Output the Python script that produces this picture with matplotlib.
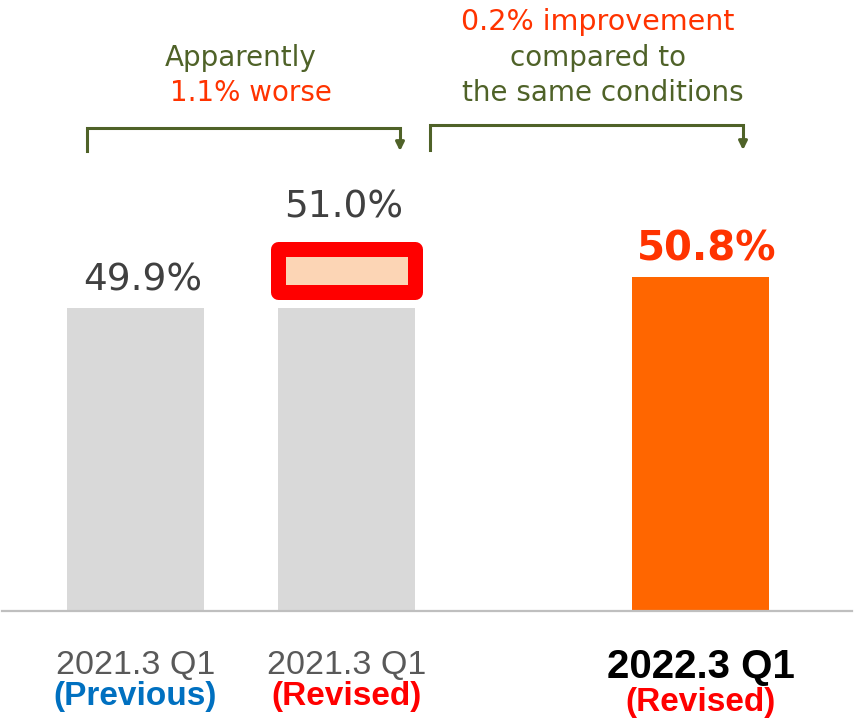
import matplotlib.pyplot as plt
import matplotlib.font_manager as fm

# data
cats = ["2021.3 Q1", "2021.3 Q1", "2022.3 Q1"]
subs = ["(Previous)", "(Revised)", "(Revised)"]
vals = [49.9, 49.9, 50.8]
revised = 51.0
labels = ["49.9%", "51.0%", "50.8%"]
xpos = [0, 1, 2.68]

GREEN = "#4f6228"
HOT = "#ff3300"

names = {f.name for f in fm.fontManager.ttflist}
narrow = "Liberation Sans Narrow" if "Liberation Sans Narrow" in names else "Liberation Sans"

fig = plt.figure(figsize=(8.56, 7.21), dpi=100)
ax = fig.add_axes([0, 110 / 721, 1, 611 / 721])
ax.set_xlim(-0.642, 3.415)
ax.set_ylim(41.1, 58.86)
ax.axis("off")

w = 0.65
ax.bar(xpos[:2], vals[:2], width=w, bottom=0, color="#d9d9d9", zorder=2)
ax.bar(xpos[2], vals[2], width=w, bottom=0, color="#ff6600", zorder=2)

# highlight of the revised value
hl = ax.bar(xpos[1], 1.26, bottom=revised - 0.63, width=w, color="#fcd5b5",
            edgecolor="#ff0000", linewidth=10.8, zorder=3)
for p in hl:
    p.set_joinstyle("round")

# baseline
fig.add_artist(plt.Line2D([2 / 856, 852 / 856], [110 / 721, 110 / 721],
                          color="#bfbfbf", lw=1.6, zorder=1))

# value labels
ax.annotate(labels[0], (xpos[0], vals[0]), xytext=(5, 13), textcoords="offset points",
            ha="center", va="baseline", fontsize=27, color="#404040")
ax.annotate(labels[1], (xpos[1], revised), xytext=(-2, 38), textcoords="offset points",
            ha="center", va="baseline", fontsize=27, color="#404040")
ax.annotate(labels[2], (xpos[2], vals[2]), xytext=(4, 12), textcoords="offset points",
            ha="center", va="baseline", fontsize=29, color=HOT, fontweight="bold")

# category labels
for i in range(3):
    last = i == 2
    ax.annotate(cats[i], (xpos[i], 41.1), xytext=(0, -45 if not last else -48),
                textcoords="offset points", ha="center", va="baseline",
                fontsize=24.5 if not last else 29, family=narrow,
                color="black" if last else "#595959",
                fontweight="bold" if last else "normal")
    ax.annotate(subs[i], (xpos[i], 41.1), xytext=(0, -68 if not last else -72),
                textcoords="offset points", ha="center", va="baseline",
                fontsize=24, family=narrow, fontweight="bold",
                color="#0070c0" if i == 0 else "#ff0000")

# brackets
def bracket(x0, x1, ytop, ybot):
    fx0, fx1 = x0 / 856, x1 / 856
    yt, yb = 1 - ytop / 721, 1 - ybot / 721
    fig.add_artist(plt.Line2D([fx0, fx0, fx1, fx1], [yb, yt, yt, 1 - (ybot - 6) / 721],
                              color=GREEN, lw=2.2, solid_joinstyle="miter"))
    ax.annotate("", xy=(fx1, yb), xytext=(fx1, 1 - (ybot - 8) / 721),
                xycoords="figure fraction", textcoords="figure fraction",
                arrowprops=dict(arrowstyle="-|>,head_length=0.5,head_width=0.25",
                                color=GREEN, lw=2.2, shrinkA=0, shrinkB=0))

bracket(87, 400, 128, 151)
bracket(430, 743, 125, 150)

# bracket texts
fig.text(241 / 856, 1 - 58 / 721, "Apparently", ha="center", va="center",
         fontsize=20, color=GREEN)
fig.text(251 / 856, 1 - 93 / 721, "1.1% worse", ha="center", va="center",
         fontsize=20, color=HOT)
fig.text(598 / 856, 1 - 22 / 721, "0.2% improvement", ha="center", va="center",
         fontsize=20.5, color=HOT)
fig.text(598 / 856, 1 - 58 / 721, "compared to", ha="center", va="center",
         fontsize=20, color=GREEN)
fig.text(603 / 856, 1 - 93 / 721, "the same conditions", ha="center", va="center",
         fontsize=20, color=GREEN)

fig.savefig("out.png", dpi=100)
